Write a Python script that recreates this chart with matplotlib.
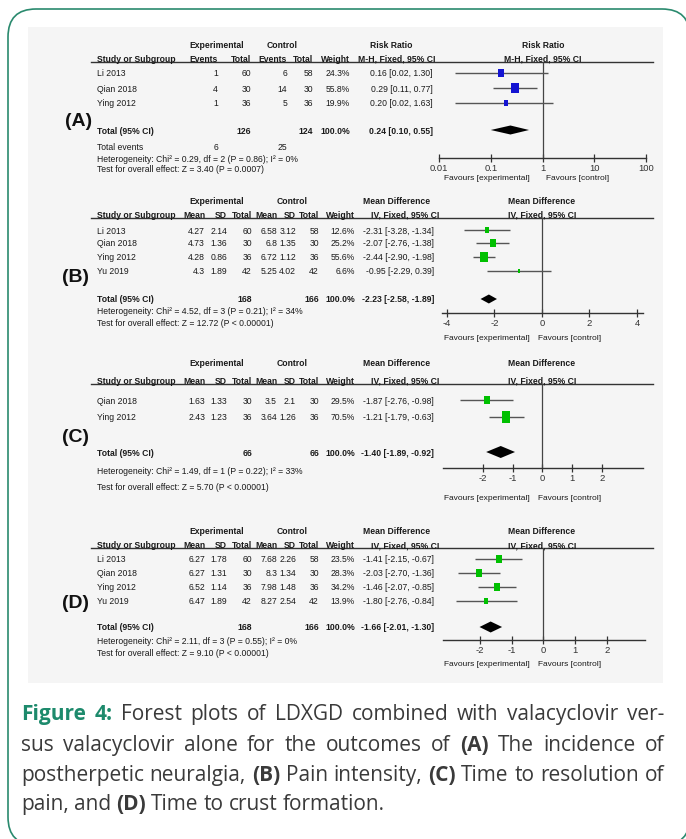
import numpy as np
import matplotlib.pyplot as plt
from matplotlib.patches import Rectangle, FancyBboxPatch

plt.rcParams['font.family'] = ['Liberation Sans', 'DejaVu Sans']

# ---------------- data ----------------
# (A) incidence of postherpetic neuralgia - risk ratio
a_studies = ['Li 2013', 'Qian 2018', 'Ying 2012']
a_exp_events = [1, 4, 1]
a_exp_total = [60, 30, 36]
a_ctl_events = [6, 14, 5]
a_ctl_total = [58, 30, 36]
a_weight = [24.3, 55.8, 19.9]
a_est = [0.16, 0.29, 0.20]
a_lo = [0.02, 0.11, 0.02]
a_hi = [1.30, 0.77, 1.63]
a_pooled = [0.24, 0.10, 0.55]
a_sum_total = [126, 124]
a_sum_events = [6, 25]
a_het = 'Heterogeneity: Chi² = 0.29, df = 2 (P = 0.86); I² = 0%'
a_test = 'Test for overall effect: Z = 3.40 (P = 0.0007)'
a_ticks = [0.01, 0.1, 1, 10, 100]
a_ticklabels = ['0.01', '0.1', '1', '10', '100']

# (B) pain intensity - mean difference
b_studies = ['Li 2013', 'Qian 2018', 'Ying 2012', 'Yu 2019']
b_exp_mean = [4.27, 4.73, 4.28, 4.3]
b_exp_sd = [2.14, 1.36, 0.86, 1.89]
b_exp_n = [60, 30, 36, 42]
b_ctl_mean = [6.58, 6.8, 6.72, 5.25]
b_ctl_sd = [3.12, 1.35, 1.12, 4.02]
b_ctl_n = [58, 30, 36, 42]
b_weight = [12.6, 25.2, 55.6, 6.6]
b_est = [-2.31, -2.07, -2.44, -0.95]
b_lo = [-3.28, -2.76, -2.90, -2.29]
b_hi = [-1.34, -1.38, -1.98, 0.39]
b_pooled = [-2.23, -2.58, -1.89]
b_sum_n = [168, 166]
b_het = 'Heterogeneity: Chi² = 4.52, df = 3 (P = 0.21); I² = 34%'
b_test = 'Test for overall effect: Z = 12.72 (P < 0.00001)'
b_ticks = [-4, -2, 0, 2, 4]

# (C) time to resolution of pain
c_studies = ['Qian 2018', 'Ying 2012']
c_exp_mean = [1.63, 2.43]
c_exp_sd = [1.33, 1.23]
c_exp_n = [30, 36]
c_ctl_mean = [3.5, 3.64]
c_ctl_sd = [2.1, 1.26]
c_ctl_n = [30, 36]
c_weight = [29.5, 70.5]
c_est = [-1.87, -1.21]
c_lo = [-2.76, -1.79]
c_hi = [-0.98, -0.63]
c_pooled = [-1.40, -1.89, -0.92]
c_sum_n = [66, 66]
c_het = 'Heterogeneity: Chi² = 1.49, df = 1 (P = 0.22); I² = 33%'
c_test = 'Test for overall effect: Z = 5.70 (P < 0.00001)'
c_ticks = [-2, -1, 0, 1, 2]

# (D) time to crust formation
d_studies = ['Li 2013', 'Qian 2018', 'Ying 2012', 'Yu 2019']
d_exp_mean = [6.27, 6.27, 6.52, 6.47]
d_exp_sd = [1.78, 1.31, 1.14, 1.89]
d_exp_n = [60, 30, 36, 42]
d_ctl_mean = [7.68, 8.3, 7.98, 8.27]
d_ctl_sd = [2.26, 1.34, 1.48, 2.54]
d_ctl_n = [58, 30, 36, 42]
d_weight = [23.5, 28.3, 34.2, 13.9]
d_est = [-1.41, -2.03, -1.46, -1.80]
d_lo = [-2.15, -2.70, -2.07, -2.76]
d_hi = [-0.67, -1.36, -0.85, -0.84]
d_pooled = [-1.66, -2.01, -1.30]
d_sum_n = [168, 166]
d_het = 'Heterogeneity: Chi² = 2.11, df = 3 (P = 0.55); I² = 0%'
d_test = 'Test for overall effect: Z = 9.10 (P < 0.00001)'
d_ticks = [-2, -1, 0, 1, 2]

# ---------------- layout (pixels) ----------------
W, H = 686, 839
FS = 6.25
INK = '#1a1a1a'
STUDY_X = 97
CI_X = 433
RR_COLS = [218, 251, 287, 313, 350]
MD_COLS = [205, 227, 252, 277, 296, 319, 355]

LAY_A = dict(top=44, head=58, line=62, rows=[73, 88, 103], total=130, events=147,
             het=158, test=168, label=121, axis=158, fav=178, x0=439, x1=646,
             xlim=(0.01, 100), dh=4.5, fav_exp=530, fav_ctl=546)
LAY_B = dict(top=200, head=214, line=218, rows=[230, 243, 257, 271], total=299,
             het=311, test=322, label=277, axis=313, fav=337, x0=442, x1=643,
             xlim=(-4.2, 4.25), dh=4.5, fav_exp=530, fav_ctl=538)
LAY_C = dict(top=363, head=380, line=384, rows=[400, 417], total=452,
             het=470, test=487, label=437, axis=468, fav=497, x0=443, x1=643,
             xlim=(-3.34, 3.38), dh=6, fav_exp=530, fav_ctl=538)
LAY_D = dict(top=531, head=545, line=548, rows=[559, 573, 587, 601], total=627,
             het=641, test=653, label=604, axis=640, fav=663, x0=443, x1=645,
             xlim=(-3.16, 3.2), dh=5.5, fav_exp=530, fav_ctl=538)

fig = plt.figure(figsize=(W / 100, H / 100), dpi=100)
bg = fig.add_axes([0, 0, 1, 1])
bg.set_xlim(0, W)
bg.set_ylim(H, 0)
bg.axis('off')

bg.add_patch(FancyBboxPatch((8, 9), 682, 836, boxstyle='round,pad=0,rounding_size=28',
                            fc='white', ec='#2a8a6e', lw=1.2))
bg.add_patch(Rectangle((28, 27), 635, 656, fc='#f5f5f5', ec='none'))


def txt(x, y, s, ha='left', bold=False, size=FS, **kw):
    bg.text(x, y, s, ha=ha, va='center_baseline', fontsize=size,
            fontweight='bold' if bold else 'normal', color=INK, **kw)


def panel_label(x, y, s):
    bg.text(x, y, s, fontsize=14, fontweight='bold', va='center', ha='left', color='#111111')


def rule(y):
    bg.plot([91, 653], [y, y], color='#333333', lw=1)


def plot_axes(lay, scale, ticks, labels, ref):
    x0, x1 = lay['x0'], lay['x1']
    ax = fig.add_axes([x0 / W, 1 - lay['axis'] / H, (x1 - x0) / W, (lay['axis'] - lay['line']) / H])
    ax.set_xscale(scale)
    ax.set_xlim(*lay['xlim'])
    ax.set_ylim(lay['axis'], lay['line'])
    ax.patch.set_visible(False)
    for s in ['top', 'left', 'right']:
        ax.spines[s].set_visible(False)
    ax.spines['bottom'].set_color('#333333')
    ax.spines['bottom'].set_linewidth(1)
    ax.set_yticks([])
    ax.set_xticks(ticks)
    ax.set_xticklabels(labels)
    ax.minorticks_off()
    ax.tick_params(axis='x', direction='inout', length=6, width=0.9, colors='#333333',
                   labelsize=6.8, pad=1.5)
    ax.axvline(ref, color='#444444', lw=0.9)
    return ax


def forest_marks(ax, lay, weight, est, lo, hi, pooled, color):
    box = [(-0.36, -0.5), (0.36, -0.5), (0.36, 0.5), (-0.36, 0.5), (-0.36, -0.5)]
    for i, y in enumerate(lay['rows']):
        ax.hlines(y, lo[i], hi[i], color='#555555', lw=1)
        h = 1.45 * np.sqrt(weight[i])
        ax.plot(est[i], y, marker=box, ms=h * 0.72, color=color, mew=0, ls='none')
    p, plo, phi = pooled
    y = lay['total']
    dh = lay['dh']
    ax.fill([plo, p, phi, p], [y, y - dh, y, y + dh], color='black', lw=0)


def favours(lay):
    txt(lay['fav_exp'], lay['fav'], 'Favours [experimental]', ha='right', size=6.0)
    txt(lay['fav_ctl'], lay['fav'], 'Favours [control]', ha='left', size=6.0)


def ci_text(e, l, h):
    return f'{e:.2f} [{l:.2f}, {h:.2f}]'


# ---------------- panel A ----------------
lay = LAY_A
panel_label(65, lay['label'], '(A)')
txt(217, lay['top'], 'Experimental', ha='center', bold=True)
txt(282, lay['top'], 'Control', ha='center', bold=True)
txt(391, lay['top'], 'Risk Ratio', ha='center', bold=True)
txt(543, lay['top'], 'Risk Ratio', ha='center', bold=True)
txt(STUDY_X, lay['head'], 'Study or Subgroup', bold=True)
for h, x in zip(['Events', 'Total', 'Events', 'Total', 'Weight'], RR_COLS):
    txt(x, lay['head'], h, ha='right', bold=True)
txt(397, lay['head'], 'M-H, Fixed, 95% CI', ha='center', bold=True)
txt(543, lay['head'], 'M-H, Fixed, 95% CI', ha='center', bold=True)
rule(lay['line'])
for i, y in enumerate(lay['rows']):
    txt(STUDY_X, y, a_studies[i])
    cells = [a_exp_events[i], a_exp_total[i], a_ctl_events[i], a_ctl_total[i], f'{a_weight[i]:.1f}%']
    for c, x in zip(cells, RR_COLS):
        txt(x, y, str(c), ha='right')
    txt(CI_X, y, ci_text(a_est[i], a_lo[i], a_hi[i]), ha='right')
txt(STUDY_X, lay['total'], 'Total (95% CI)', bold=True)
txt(RR_COLS[1], lay['total'], str(a_sum_total[0]), ha='right', bold=True)
txt(RR_COLS[3], lay['total'], str(a_sum_total[1]), ha='right', bold=True)
txt(RR_COLS[4], lay['total'], '100.0%', ha='right', bold=True)
txt(CI_X, lay['total'], ci_text(*a_pooled), ha='right', bold=True)
txt(STUDY_X, lay['events'], 'Total events')
txt(RR_COLS[0], lay['events'], str(a_sum_events[0]), ha='right')
txt(RR_COLS[2], lay['events'], str(a_sum_events[1]), ha='right')
txt(STUDY_X, lay['het'], a_het)
txt(STUDY_X, lay['test'], a_test)
ax = plot_axes(lay, 'log', a_ticks, a_ticklabels, 1)
forest_marks(ax, lay, a_weight, a_est, a_lo, a_hi, a_pooled, '#1414d2')
favours(lay)


# ---------------- mean difference panels ----------------
def md_panel(lay, label, studies, e_mean, e_sd, e_n, c_mean, c_sd, c_n, weight,
             est, lo, hi, pooled, sum_n, het, test, ticks):
    panel_label(62, lay['label'], label)
    txt(217, lay['top'], 'Experimental', ha='center', bold=True)
    txt(292, lay['top'], 'Control', ha='center', bold=True)
    txt(397, lay['top'], 'Mean Difference', ha='center', bold=True)
    txt(542, lay['top'], 'Mean Difference', ha='center', bold=True)
    txt(STUDY_X, lay['head'], 'Study or Subgroup', bold=True)
    for h, x in zip(['Mean', 'SD', 'Total', 'Mean', 'SD', 'Total', 'Weight'], MD_COLS):
        txt(x, lay['head'], h, ha='right', bold=True)
    txt(405, lay['head'], 'IV, Fixed, 95% CI', ha='center', bold=True)
    txt(542, lay['head'], 'IV, Fixed, 95% CI', ha='center', bold=True)
    rule(lay['line'])
    for i, y in enumerate(lay['rows']):
        txt(STUDY_X, y, studies[i])
        cells = [f'{e_mean[i]:g}', f'{e_sd[i]:g}', str(e_n[i]), f'{c_mean[i]:g}',
                 f'{c_sd[i]:g}', str(c_n[i]), f'{weight[i]:.1f}%']
        for c, x in zip(cells, MD_COLS):
            txt(x, y, c, ha='right')
        txt(CI_X + 1, y, ci_text(est[i], lo[i], hi[i]), ha='right')
    txt(STUDY_X, lay['total'], 'Total (95% CI)', bold=True)
    txt(MD_COLS[2], lay['total'], str(sum_n[0]), ha='right', bold=True)
    txt(MD_COLS[5], lay['total'], str(sum_n[1]), ha='right', bold=True)
    txt(MD_COLS[6], lay['total'], '100.0%', ha='right', bold=True)
    txt(CI_X + 1, lay['total'], ci_text(*pooled), ha='right', bold=True)
    txt(STUDY_X, lay['het'], het)
    txt(STUDY_X, lay['test'], test)
    ax = plot_axes(lay, 'linear', ticks, [str(t) for t in ticks], 0)
    forest_marks(ax, lay, weight, est, lo, hi, pooled, '#00c000')
    favours(lay)


md_panel(LAY_B, '(B)', b_studies, b_exp_mean, b_exp_sd, b_exp_n, b_ctl_mean, b_ctl_sd, b_ctl_n,
         b_weight, b_est, b_lo, b_hi, b_pooled, b_sum_n, b_het, b_test, b_ticks)
md_panel(LAY_C, '(C)', c_studies, c_exp_mean, c_exp_sd, c_exp_n, c_ctl_mean, c_ctl_sd, c_ctl_n,
         c_weight, c_est, c_lo, c_hi, c_pooled, c_sum_n, c_het, c_test, c_ticks)
md_panel(LAY_D, '(D)', d_studies, d_exp_mean, d_exp_sd, d_exp_n, d_ctl_mean, d_ctl_sd, d_ctl_n,
         d_weight, d_est, d_lo, d_hi, d_pooled, d_sum_n, d_het, d_test, d_ticks)

# ---------------- caption (justified) ----------------
CAP = dict(family='Open Sans', fontsize=15)
TEAL = dict(color='#1d8a6c', fontweight='bold')
BODY = dict(color='#3a3a3a', fontweight='normal')
BOLD = dict(color='#3a3a3a', fontweight='bold')
cap_lines = [
    ([('Figure 4:', TEAL), ('Forest plots of LDXGD combined with valacyclovir ver-', BODY)], 720, True),
    ([('sus valacyclovir alone for the outcomes of', BODY), ('(A)', BOLD), ('The incidence of', BODY)], 751, True),
    ([('postherpetic neuralgia,', BODY), ('(B)', BOLD), ('Pain intensity,', BODY), ('(C)', BOLD),
      ('Time to resolution of', BODY)], 781, True),
    ([('pain, and', BODY), ('(D)', BOLD), ('Time to crust formation.', BODY)], 810, False),
]
renderer = fig.canvas.get_renderer()
for parts, y, justify in cap_lines:
    words = [(w, st) for s, st in parts for w in s.split()]
    arts = [bg.text(0, y, w, va='baseline', ha='left', **CAP, **st) for w, st in words]
    widths = [a.get_window_extent(renderer).width for a in arts]
    left, right = 21, 664
    gap = (right - left - sum(widths)) / (len(words) - 1) if justify else 5.2
    x = left
    for a, w in zip(arts, widths):
        a.set_x(x)
        x += w + gap

fig.savefig('out.png', dpi=100)
